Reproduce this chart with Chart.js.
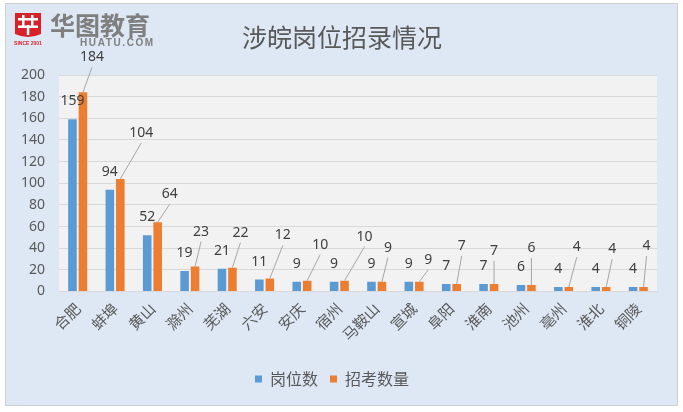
<!DOCTYPE html>
<html>
<head>
<meta charset="utf-8">
<script src="https://cdn.jsdelivr.net/npm/chart.js@4/dist/chart.umd.min.js"></script>
<style>
  html, body { margin: 0; padding: 0; background: #ffffff; }
  #wrap { position: absolute; left: 0; top: 0; width: 683px; height: 412px; }
</style>
</head>
<body>
<div id="wrap"><canvas id="c" width="683" height="412"></canvas></div>
<script>
const categories = ['合肥','蚌埠','黄山','滁州','芜湖','六安','安庆','宿州','马鞍山','宣城','阜阳','淮南','池州','亳州','淮北','铜陵'];
const postCounts = [159, 94, 52, 19, 21, 11, 9, 9, 9, 9, 7, 7, 6, 4, 4, 4];
const recruitCounts = [184, 104, 64, 23, 22, 12, 10, 10, 9, 9, 7, 7, 6, 4, 4, 4];
const seriesNames = ['岗位数', '招考数量'];
const chartTitle = '涉皖岗位招录情况';
const yMin = 0, yMax = 200, yStep = 20;

// label placement for the second series (offset from bar top, px) – layout only
const recruitLabelOffsets = [[9,-35],[21,-46],[12,-28],[6,-35],[8,-35],[13,-43],[13,-36],[20,-44],[6,-34],[9,-22],[5,-38],[0,-33],[0,-37],[8,-40],[6,-38],[3,-41]];

const CJK = '"Noto Sans CJK SC", "Noto Sans", sans-serif';
const NUM = '"Noto Sans", "Noto Sans CJK SC", sans-serif';

const backgroundPlugin = {
  id: 'bgLogo',
  beforeDraw(chart) {
    const ctx = chart.ctx;
    ctx.save();
    ctx.fillStyle = '#ffffff';
    ctx.fillRect(0, 0, chart.width, chart.height);
    ctx.fillStyle = '#dde8f4';
    ctx.fillRect(6, 4, 671, 401);
    ctx.strokeStyle = '#d0d0d0';
    ctx.lineWidth = 1;
    ctx.strokeRect(5.5, 3.5, 672, 402);
    // plot area fill
    const a = chart.chartArea;
    ctx.fillStyle = '#f2f2f2';
    ctx.fillRect(a.left, a.top, a.right - a.left, a.bottom - a.top);
    // title
    ctx.fillStyle = '#595959';
    ctx.font = '25px ' + CJK;
    ctx.textAlign = 'center'; ctx.textBaseline = 'middle';
    ctx.fillText(chartTitle, 342, 37);
    // logo icon
    ctx.fillStyle = '#d7222a';
    ctx.beginPath();
    ctx.moveTo(15, 13); ctx.lineTo(41, 13); ctx.lineTo(41, 34);
    ctx.quadraticCurveTo(28, 40, 15, 34); ctx.closePath(); ctx.fill();
    ctx.fillStyle = '#ffffff';
    ctx.fillRect(18, 18, 20, 2.5);
    ctx.fillRect(22, 15, 2.5, 11);
    ctx.fillRect(31, 15, 2.5, 11);
    ctx.fillRect(18, 25.5, 20, 2.5);
    ctx.fillRect(26.8, 25, 2.5, 10);
    ctx.fillStyle = '#d7222a';
    ctx.font = 'bold 5px "Liberation Sans", sans-serif';
    ctx.fillText('SINCE 2001', 28, 43.5);
    ctx.fillStyle = '#7f7f7f';
    ctx.font = 'bold 25px ' + CJK;
    ctx.textAlign = 'left';
    ctx.fillText('华图教育', 50, 25);
    ctx.font = 'bold 10px "Liberation Sans", sans-serif';
    ctx.letterSpacing = '1.6px';
    ctx.fillText('HUATU.COM', 80, 43);
    ctx.restore();
  }
};

const labelPlugin = {
  id: 'barLabels',
  afterDatasetsDraw(chart) {
    const ctx = chart.ctx;
    ctx.save();
    ctx.font = '14px ' + NUM;
    ctx.fillStyle = '#404040';
    ctx.textAlign = 'center';
    ctx.textBaseline = 'middle';
    const m0 = chart.getDatasetMeta(0);
    m0.data.forEach((el, i) => {
      ctx.fillText(String(postCounts[i]), el.x, el.y - 18);
    });
    const m1 = chart.getDatasetMeta(1);
    ctx.strokeStyle = '#a6a6a6';
    ctx.lineWidth = 1;
    m1.data.forEach((el, i) => {
      const off = recruitLabelOffsets[i];
      const lx = el.x + off[0], ly = el.y + off[1];
      ctx.beginPath();
      ctx.moveTo(el.x, el.y);
      ctx.lineTo(lx, ly + 10);
      ctx.stroke();
      ctx.fillText(String(recruitCounts[i]), lx, ly);
    });
    ctx.restore();
  }
};

new Chart(document.getElementById('c'), {
  type: 'bar',
  data: {
    labels: categories,
    datasets: [
      { label: seriesNames[0], data: postCounts, backgroundColor: '#5b9bd5', categoryPercentage: 0.56, barPercentage: 0.82 },
      { label: seriesNames[1], data: recruitCounts, backgroundColor: '#ed7d31', categoryPercentage: 0.56, barPercentage: 0.82 }
    ]
  },
  options: {
    responsive: false,
    animation: false,
    layout: { padding: { left: 7, right: 26, top: 75, bottom: 15 } },
    plugins: {
      title: { display: false },
      legend: {
        position: 'bottom',
        labels: {
          color: '#595959', font: { family: CJK, size: 16 },
          boxWidth: 7, boxHeight: 7, padding: 12, useBorderRadius: false
        }
      },
      tooltip: { enabled: false }
    },
    scales: {
      x: {
        grid: { display: false, drawTicks: false },
        border: { display: true, color: '#d9d9d9' },
        ticks: { color: '#595959', font: { family: CJK, size: 15 }, minRotation: 45, maxRotation: 45, padding: 8 },
        afterFit(scale) { scale.height += 7; }
      },
      y: {
        min: yMin, max: yMax,
        grid: { color: '#d9d9d9', drawTicks: false },
        border: { display: false },
        ticks: { stepSize: yStep, color: '#595959', font: { family: NUM, size: 14 }, padding: 14 }
      }
    }
  },
  plugins: [backgroundPlugin, labelPlugin]
});
</script>
</body>
</html>
